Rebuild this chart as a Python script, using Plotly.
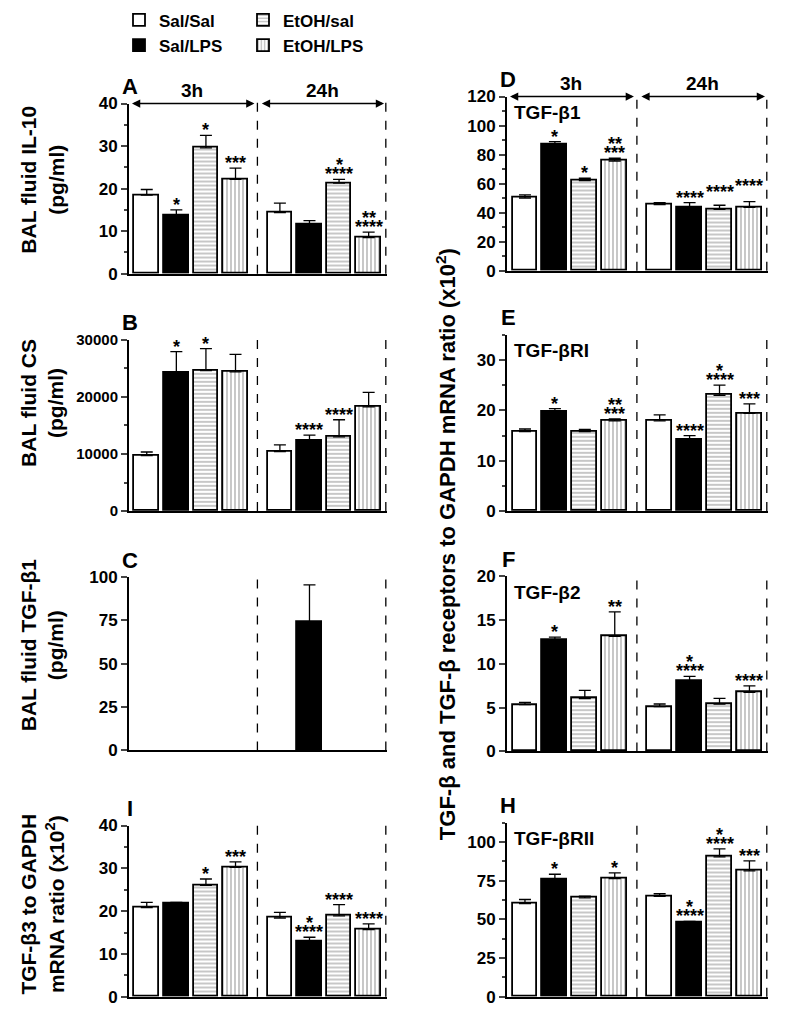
import plotly.graph_objects as go

W, H = 793, 1018

groups = ["Sal/Sal", "Sal/LPS", "EtOH/sal", "EtOH/LPS"]

# every series: the 4 groups at 3h, then the 4 groups at 24h
il10_mean = [18.5, 13.8, 29.6, 22.2, 14.4, 11.5, 21.3, 8.5]
il10_sem = [1.3, 1.2, 2.9, 2.6, 2.2, 1.0, 0.9, 1.3]
il10_stars = ["", "*", "*", "***", "", "", "*\n****", "**\n****"]

cs_mean = [9700, 24300, 24600, 24400, 10400, 12300, 13000, 18250]
cs_sem = [650, 3650, 3850, 3050, 1200, 1000, 3000, 2550]
cs_stars = ["", "*", "*", "", "", "****", "****", ""]

baltgf_mean = [None, None, None, None, None, 73.9, None, None]
baltgf_sem = [None, None, None, None, None, 21.6, None, None]
baltgf_stars = ["", "", "", "", "", "", "", ""]

tgfb3_mean = [20.8, 21.7, 26.0, 30.2, 18.4, 12.9, 18.9, 15.7]
tgfb3_sem = [1.25, 0.35, 1.5, 1.3, 1.3, 1.0, 2.6, 1.3]
tgfb3_stars = ["", "", "*", "***", "", "*\n****", "****", "****"]

tgfb1_mean = [50.1, 86.7, 62.1, 75.6, 45.5, 43.9, 42.3, 43.7]
tgfb1_sem = [2.1, 2.3, 1.6, 1.9, 1.4, 3.0, 2.8, 3.9]
tgfb1_stars = ["", "*", "*", "**\n***", "", "****", "****", "****"]

tgfbr1_mean = [15.8, 19.7, 15.8, 17.9, 17.9, 14.2, 23.0, 19.4]
tgfbr1_sem = [0.5, 0.65, 0.4, 0.4, 1.2, 0.8, 2.0, 1.9]
tgfbr1_stars = ["", "*", "", "**\n***", "", "****", "*\n****", "***"]

tgfb2_mean = [5.33, 12.7, 6.02, 13.14, 5.1, 8.0, 5.41, 6.74]
tgfb2_sem = [0.27, 0.34, 0.95, 2.78, 0.31, 0.57, 0.65, 0.73]
tgfb2_stars = ["", "*", "", "**", "", "*\n****", "", "****"]

tgfbr2_mean = [60.2, 75.7, 63.9, 76.3, 64.9, 47.7, 90.3, 81.3]
tgfbr2_sem = [2.6, 3.4, 1.0, 3.7, 1.6, 0.9, 5.2, 6.4]
tgfbr2_stars = ["", "*", "", "*", "", "*\n****", "*\n****", "***"]

FONT = "Liberation Sans, Arial, sans-serif"
x_pos = [0, 1, 2, 3, 4.5, 5.5, 6.5, 7.5]
x_rng = [-0.6, 8.12]

# pixel boxes of the panels (left, right, top, bottom), as measured on the target picture
panels = [
    dict(letter="A", mean=il10_mean, sem=il10_sem, stars=il10_stars,
         box=(129, 387, 101, 271), rng=[0, 40], dtick=10, minor=5, arrows=True),
    dict(letter="B", mean=cs_mean, sem=cs_sem, stars=cs_stars,
         box=(129, 387, 337, 508), rng=[0, 30000], dtick=10000, minor=5000, tsize=15),
    dict(letter="C", mean=baltgf_mean, sem=baltgf_sem, stars=baltgf_stars,
         box=(129, 387, 574, 747), rng=[0, 100], dtick=25, minor=None),
    dict(letter="I", mean=tgfb3_mean, sem=tgfb3_sem, stars=tgfb3_stars,
         box=(129, 387, 822, 993), rng=[0, 40], dtick=10, minor=5),
    dict(letter="D", mean=tgfb1_mean, sem=tgfb1_sem, stars=tgfb1_stars,
         box=(507, 768, 94, 268), rng=[0, 120], dtick=20, minor=10, arrows=True,
         inner="TGF-β1", lift=[0, 0, 0, 0, 0, 0, 8, 11]),
    dict(letter="E", mean=tgfbr1_mean, sem=tgfbr1_sem, stars=tgfbr1_stars,
         box=(507, 768, 332, 508), rng=[0, 35], dtick=10, minor=5, inner="TGF-βRI"),
    dict(letter="F", mean=tgfb2_mean, sem=tgfb2_sem, stars=tgfb2_stars,
         box=(507, 768, 573, 748), rng=[0, 20], dtick=5, minor=None, inner="TGF-β2"),
    dict(letter="H", mean=tgfbr2_mean, sem=tgfbr2_sem, stars=tgfbr2_stars,
         box=(507, 768, 819, 993), rng=[0, 112.5], dtick=25, minor=12.5, inner="TGF-βRII"),
]

styles = {
    "Sal/Sal": dict(color="white", pattern=dict(shape="")),
    "Sal/LPS": dict(color="black", pattern=dict(shape="")),
    "EtOH/sal": dict(color="white", pattern=dict(shape="-", size=4, solidity=0.3, fgcolor="#444")),
    "EtOH/LPS": dict(color="white", pattern=dict(shape="|", size=4, solidity=0.3, fgcolor="#444")),
}
legend_of = {"Sal/Sal": "legend", "Sal/LPS": "legend", "EtOH/sal": "legend2", "EtOH/LPS": "legend2"}

# the captured page comes out slightly squeezed vertically; undo that
Y_OFF, Y_SCALE = 6.6, 0.98


def page_y(y):
    return (y - Y_OFF) / Y_SCALE


def px(xp, yp):
    return xp / W, 1 - page_y(yp) / H


def bold(size):
    return dict(family=FONT, size=size, color="black", weight="bold")


fig = go.Figure()
annotations = []
shapes = []

for i, p in enumerate(panels, 1):
    l, r, t, b = p["box"]
    sfx = "" if i == 1 else str(i)
    xa, ya = "x" + sfx, "y" + sfx
    for g, name in enumerate(groups):
        st = styles[name]
        fig.add_trace(go.Bar(
            x=[x_pos[g], x_pos[g + 4]],
            y=[p["mean"][g], p["mean"][g + 4]],
            width=0.83,
            name=name,
            xaxis=xa, yaxis=ya,
            showlegend=(i == 1),
            legend=legend_of[name],
            legendrank=g,
            marker=dict(color=st["color"], line=dict(color="black", width=1.8),
                        pattern=st["pattern"]),
            error_y=dict(type="data", symmetric=False,
                         array=[p["sem"][g], p["sem"][g + 4]],
                         arrayminus=[0, 0], color="black", thickness=1.3, width=6),
        ))

    fig.update_layout(**{
        "xaxis" + sfx: dict(domain=[l / W, r / W], range=x_rng, anchor=ya,
                            showline=True, linecolor="black", linewidth=2,
                            showticklabels=False, ticks="", showgrid=False, zeroline=False),
        "yaxis" + sfx: dict(domain=[px(0, b)[1], px(0, t)[1]], range=p["rng"], anchor=xa,
                            tick0=0, dtick=p["dtick"], tickformat="d",
                            ticks="outside", ticklen=6, tickwidth=2,
                            showline=True, linecolor="black", linewidth=2,
                            showgrid=False, zeroline=False,
                            tickfont=bold(p.get("tsize", 17)),
                            minor=dict(dtick=p["minor"], ticks="outside", ticklen=3,
                                       tickwidth=1.5) if p["minor"] else dict(ticks=""),
                            ),
    })

    # dashed separators
    for xv in (3.74, 8.08):
        shapes.append(dict(type="line", xref=xa, yref=ya + " domain", x0=xv, x1=xv,
                           y0=0, y1=1.02, line=dict(color="black", width=1.3, dash="dash")))

    # significance stars
    lift = p.get("lift", [0] * 8)
    for k in range(8):
        if not p["stars"][k]:
            continue
        top = p["mean"][k] + p["sem"][k]
        lines = p["stars"][k].split("\n")[::-1]
        for j, s in enumerate(lines):
            annotations.append(dict(x=x_pos[k], y=top, xref=xa, yref=ya, text=s,
                                    showarrow=False, yanchor="bottom",
                                    yshift=-7 + 9 * j + lift[k], font=bold(18)))

    # panel letter
    lx, ly = px(l + 1, t - 17)
    annotations.append(dict(x=lx, y=ly, xref="paper", yref="paper", text=p["letter"],
                            showarrow=False, xanchor="center", yanchor="middle", font=bold(22)))

    if p.get("inner"):
        ix, iy = px(l + 5, t + 16)
        annotations.append(dict(x=ix, y=iy, xref="paper", yref="paper", text=p["inner"],
                                showarrow=False, xanchor="left", yanchor="middle", font=bold(19)))

    if p.get("arrows"):
        ytop = p["rng"][1]
        for x0, x1, lab in ((-0.55, 3.64, "3h"), (3.84, 8.02, "24h")):
            annotations.append(dict(x=x1, y=ytop, ax=x0, ay=ytop, xref=xa, yref=ya,
                                    axref=xa, ayref=ya, text="", showarrow=True,
                                    arrowhead=2, arrowside="end+start", arrowsize=1.1,
                                    arrowwidth=1.5, arrowcolor="black", standoff=0, startstandoff=0))
            annotations.append(dict(x=(x0 + x1) / 2, y=ytop, xref=xa, yref=ya, text=lab,
                                    showarrow=False, yanchor="bottom", yshift=1, font=bold(19)))

# y axis titles
for txt, yc in (("BAL fluid IL-10<br>(pg/ml)", 177),
                ("BAL fluid CS<br>(pg/ml)", 400),
                ("BAL fluid TGF-β1<br>(pg/ml)", 642),
                ("TGF-β3 to GAPDH<br>mRNA ratio (x10<sup>2</sup>)", 901)):
    tx, ty = px(42, yc)
    annotations.append(dict(x=tx, y=ty, xref="paper", yref="paper", text=txt, textangle=-90,
                            showarrow=False, xanchor="center", yanchor="middle", font=bold(21)))
tx, ty = px(446, 541)
annotations.append(dict(x=tx, y=ty, xref="paper", yref="paper",
                        text="TGF-β and TGF-β receptors to GAPDH mRNA ratio (x10<sup>2</sup>)",
                        textangle=-90, showarrow=False, xanchor="center", yanchor="middle",
                        font=bold(22)))

legend_style = dict(xanchor="left", yanchor="top", orientation="v", bgcolor="rgba(0,0,0,0)",
                    font=bold(17), tracegroupgap=0, itemwidth=30)

fig.update_layout(
    width=W, height=H,
    margin=dict(l=0, r=0, t=0, b=0),
    paper_bgcolor="white", plot_bgcolor="white",
    barmode="overlay",
    bargap=0,
    annotations=annotations,
    shapes=shapes,
    legend=dict(x=px(119, 0)[0], y=px(0, 0)[1], **legend_style),
    legend2=dict(x=px(243, 0)[0], y=px(0, 0)[1], **legend_style),
    font=dict(family=FONT, color="black"),
)

# the page's default body margin would shift the figure; drop it
fig.write_html("out.html", config={"displayModeBar": False},
               post_script="document.body.style.margin='0';")
